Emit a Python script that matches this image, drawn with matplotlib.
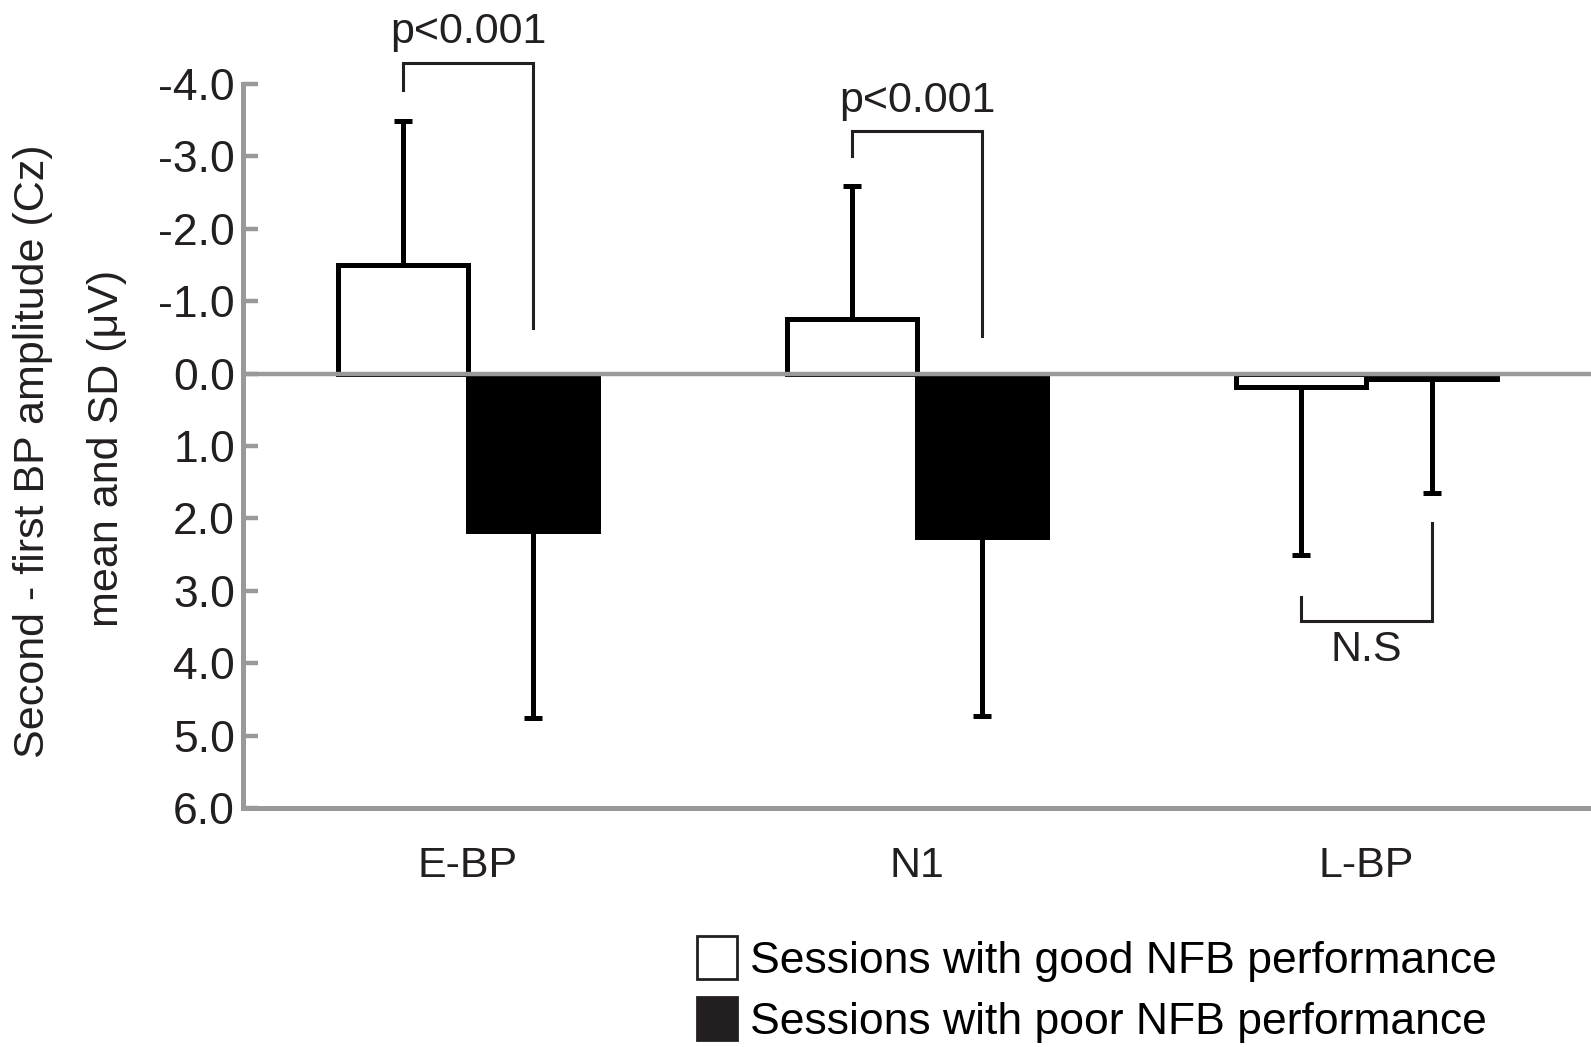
import numpy as np
import matplotlib
matplotlib.use("Agg")
import matplotlib.pyplot as plt
from matplotlib.patches import Patch

plt.rcParams['font.family'] = ['Liberation Sans', 'DejaVu Sans']

# data (y axis is inverted: negative up)
categories = ["E-BP", "N1", "L-BP"]
good_mean = [-1.50, -0.76, 0.18]
good_sd = [1.99, 1.83, 2.33]
poor_mean = [2.17, 2.25, 0.08]
poor_sd = [2.59, 2.48, 1.57]
labels = ["Sessions with good NFB performance", "Sessions with poor NFB performance"]
yticks = [-4.0, -3.0, -2.0, -1.0, 0.0, 1.0, 2.0, 3.0, 4.0, 5.0, 6.0]

# significance brackets: (left leg end, bracket level, right leg end, text)
brackets = [(-3.91, -4.29, -0.63, "p<0.001"),
            (-3.00, -3.35, -0.52, "p<0.001"),
            (3.08, 3.42, 2.06, "N.S")]
text_y = [-4.72, -3.76, 3.82]

GRAY = "#999999"
INK = "#231f20"
FS = 31

def one_sided(mean, sd):
    # error bar only extends away from zero
    lo = [s if m < 0 else 0 for m, s in zip(mean, sd)]
    hi = [s if m >= 0 else 0 for m, s in zip(mean, sd)]
    return [lo, hi]

fig = plt.figure(figsize=(15.91, 10.47), dpi=100)
ax = fig.add_axes([0.153, 0.228, 0.847, 0.692])

x = np.arange(len(categories))
w = 0.29
ekw = dict(elinewidth=3.6, capthick=3.6, ecolor="black")
ax.bar(x - w / 2, good_mean, w, color="white", edgecolor="black", linewidth=3.6,
       yerr=one_sided(good_mean, good_sd), capsize=6.5, error_kw=ekw, zorder=2)
ax.bar(x + w / 2, poor_mean, w, color="black", edgecolor="black", linewidth=3.6,
       yerr=one_sided(poor_mean, poor_sd), capsize=6.5, error_kw=ekw, zorder=2)
ax.axhline(0, color=GRAY, lw=3.2, zorder=5)

for i, (a, lvl, b, txt) in enumerate(brackets):
    xl, xr = x[i] - w / 2, x[i] + w / 2
    ax.plot([xl, xl, xr, xr], [a, lvl, lvl, b], color=INK, lw=2.2,
            solid_joinstyle="miter", clip_on=False, zorder=4)
    ax.text(x[i], text_y[i], txt, ha="center", va="center", fontsize=FS,
            color=INK, clip_on=False)

ax.set_xlim(-0.5, 2.5)
ax.set_ylim(6.0, -4.0)
ax.set_yticks(yticks)
ax.set_yticklabels([f"{t:.1f}" for t in yticks], fontsize=32, color=INK)
ax.tick_params(axis="y", direction="in", length=11, width=3.2, color=GRAY, pad=6)
ax.set_xticks(x)
ax.set_xticklabels(categories, fontsize=FS, color=INK)
ax.tick_params(axis="x", length=0, pad=27)

for s in ["top", "right"]:
    ax.spines[s].set_visible(False)
for s in ["left", "bottom"]:
    ax.spines[s].set_color(GRAY)
    ax.spines[s].set_linewidth(3.6)

# two-line y label, placed as in the original
fig.text(0.0205, 0.569, "Second - first BP amplitude (Cz)", rotation=90,
         ha="center", va="center", fontsize=FS, color=INK)
fig.text(0.067, 0.572, "mean and SD (μV)", rotation=90,
         ha="center", va="center", fontsize=FS, color=INK)

handles = [Patch(facecolor="white", edgecolor=INK, linewidth=2),
           Patch(facecolor=INK, edgecolor=INK, linewidth=2)]
fig.legend(handles, labels, loc="center left", bbox_to_anchor=(0.438, 0.055),
           frameon=False, fontsize=32, handlelength=0.9, handleheight=1.1,
           handletextpad=0.3, labelspacing=0.35, borderaxespad=0, borderpad=0)

fig.savefig("out.png", dpi=100)
